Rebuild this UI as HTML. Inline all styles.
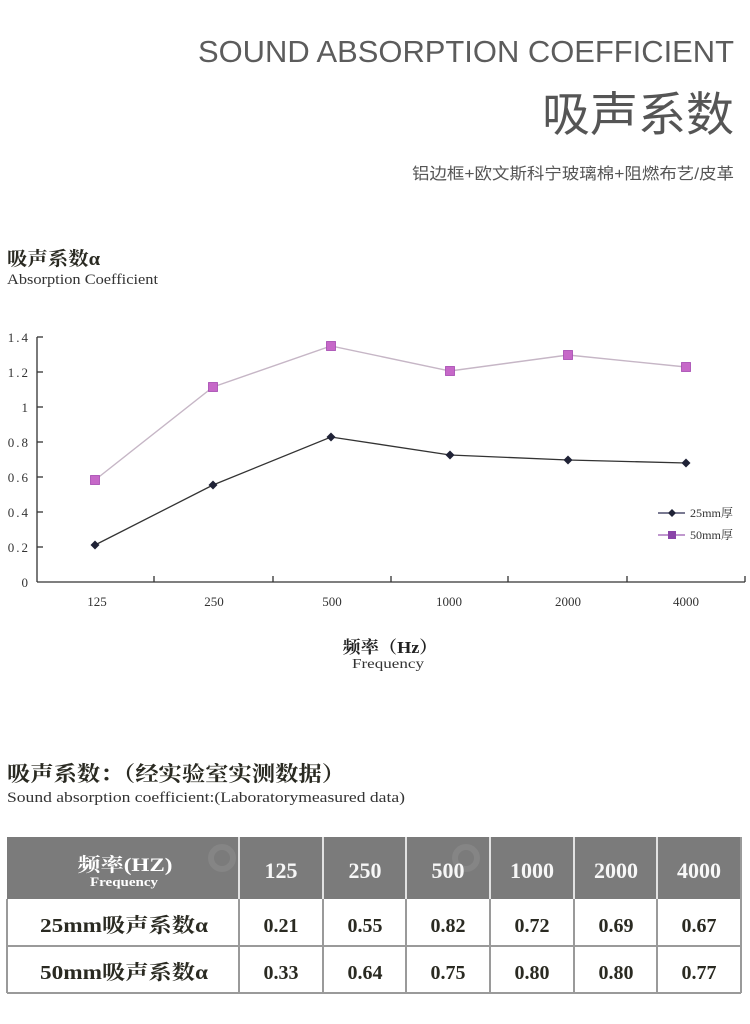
<!DOCTYPE html>
<html>
<head>
<meta charset="utf-8">
<style>
html,body{margin:0;padding:0;background:#fff;}
svg{display:block;}
</style>
</head>
<body>
<svg width="750" height="1024" viewBox="0 0 750 1024" xmlns="http://www.w3.org/2000/svg">
<rect width="750" height="1024" fill="#fff"/>

<!-- Header -->
<text x="734" y="62" text-anchor="end" font-family="Liberation Sans, sans-serif" font-size="31" fill="#5c5c5c" textLength="536" lengthAdjust="spacingAndGlyphs">SOUND ABSORPTION COEFFICIENT</text>
<text x="734" y="131" text-anchor="end" font-family="Liberation Sans, 'Noto Sans CJK SC', sans-serif" font-size="47" fill="#555" textLength="192" lengthAdjust="spacingAndGlyphs">吸声系数</text>
<text x="734" y="179" text-anchor="end" font-family="Liberation Sans, 'Noto Sans CJK SC', sans-serif" font-size="16" fill="#555" textLength="322" lengthAdjust="spacingAndGlyphs">铝边框+欧文斯科宁玻璃棉+阻燃布艺/皮革</text>

<!-- Chart title -->
<text x="7" y="265" font-family="Liberation Serif, 'Noto Serif CJK SC', serif" font-weight="bold" font-size="19" fill="#2a2a22" textLength="93" lengthAdjust="spacingAndGlyphs">吸声系数α</text>
<text x="7" y="284" font-family="Liberation Serif, serif" font-size="15" fill="#333" textLength="151" lengthAdjust="spacingAndGlyphs">Absorption Coefficient</text>

<!-- Axes -->
<g stroke="#333" stroke-width="1.3" fill="none">
  <line x1="37" y1="337" x2="37" y2="582"/>
  <line x1="37" y1="582" x2="745" y2="582"/>
  <line x1="37" y1="337" x2="43" y2="337"/>
  <line x1="37" y1="372" x2="43" y2="372"/>
  <line x1="37" y1="407" x2="43" y2="407"/>
  <line x1="37" y1="442" x2="43" y2="442"/>
  <line x1="37" y1="477" x2="43" y2="477"/>
  <line x1="37" y1="512" x2="43" y2="512"/>
  <line x1="37" y1="547" x2="43" y2="547"/>
  <line x1="154" y1="582" x2="154" y2="576"/>
  <line x1="273" y1="582" x2="273" y2="576"/>
  <line x1="391" y1="582" x2="391" y2="576"/>
  <line x1="508" y1="582" x2="508" y2="576"/>
  <line x1="627" y1="582" x2="627" y2="576"/>
  <line x1="745" y1="582" x2="745" y2="576"/>
</g>

<!-- Y labels -->
<g font-family="Liberation Serif, serif" font-size="13" fill="#333" text-anchor="end">
  <text x="30" y="342" letter-spacing="2">1.4</text>
  <text x="30" y="377" letter-spacing="2">1.2</text>
  <text x="28" y="412">1</text>
  <text x="30" y="447" letter-spacing="2">0.8</text>
  <text x="30" y="482" letter-spacing="2">0.6</text>
  <text x="30" y="517" letter-spacing="2">0.4</text>
  <text x="30" y="552" letter-spacing="2">0.2</text>
  <text x="28" y="587">0</text>
</g>

<!-- X labels -->
<g font-family="Liberation Serif, serif" font-size="13" fill="#333" text-anchor="middle">
  <text x="97" y="606">125</text>
  <text x="214" y="606">250</text>
  <text x="332" y="606">500</text>
  <text x="449" y="606">1000</text>
  <text x="568" y="606">2000</text>
  <text x="686" y="606">4000</text>
</g>

<!-- 50mm series -->
<polyline points="95,480 213,387 331,346 450,371 568,355 686,367" fill="none" stroke="#c6b6c6" stroke-width="1.4"/>
<g fill="#c668c8" stroke="#a448b0" stroke-width="0.8">
  <rect x="90.5" y="475.5" width="9" height="9"/>
  <rect x="208.5" y="382.5" width="9" height="9"/>
  <rect x="326.5" y="341.5" width="9" height="9"/>
  <rect x="445.5" y="366.5" width="9" height="9"/>
  <rect x="563.5" y="350.5" width="9" height="9"/>
  <rect x="681.5" y="362.5" width="9" height="9"/>
</g>

<!-- 25mm series -->
<polyline points="95,545 213,485 331,437 450,455 568,460 686,463" fill="none" stroke="#333" stroke-width="1.3"/>
<g fill="#1f2236">
  <polygon points="95,540.5 99.5,545 95,549.5 90.5,545"/>
  <polygon points="213,480.5 217.5,485 213,489.5 208.5,485"/>
  <polygon points="331,432.5 335.5,437 331,441.5 326.5,437"/>
  <polygon points="450,450.5 454.5,455 450,459.5 445.5,455"/>
  <polygon points="568,455.5 572.5,460 568,464.5 563.5,460"/>
  <polygon points="686,458.5 690.5,463 686,467.5 681.5,463"/>
</g>

<!-- Legend -->
<line x1="658" y1="513" x2="685" y2="513" stroke="#2a2a50" stroke-width="1.2"/>
<polygon points="672,509 676,513 672,517 668,513" fill="#1f2236"/>
<text x="690" y="517" font-family="Liberation Serif, 'Noto Serif CJK SC', serif" font-size="12" fill="#333" textLength="43" lengthAdjust="spacingAndGlyphs">25mm厚</text>
<line x1="658" y1="535" x2="685" y2="535" stroke="#9a5ab0" stroke-width="1.2"/>
<rect x="668" y="531" width="8" height="8" fill="#8a44a8"/>
<text x="690" y="539" font-family="Liberation Serif, 'Noto Serif CJK SC', serif" font-size="12" fill="#333" textLength="43" lengthAdjust="spacingAndGlyphs">50mm厚</text>

<!-- Axis title -->
<text x="390" y="653" text-anchor="middle" font-family="Liberation Serif, 'Noto Serif CJK SC', serif" font-weight="bold" font-size="17" fill="#222" textLength="95" lengthAdjust="spacingAndGlyphs">频率（Hz）</text>
<text x="388" y="668" text-anchor="middle" font-family="Liberation Serif, serif" font-size="14" fill="#333" textLength="72" lengthAdjust="spacingAndGlyphs">Frequency</text>

<!-- Section title -->
<text x="7" y="781" font-family="Liberation Serif, 'Noto Serif CJK SC', serif" font-weight="bold" font-size="21" fill="#2a2a22" textLength="338" lengthAdjust="spacingAndGlyphs">吸声系数：（经实验室实测数据）</text>
<text x="7" y="802" font-family="Liberation Serif, serif" font-size="15" fill="#333" textLength="398" lengthAdjust="spacingAndGlyphs">Sound absorption coefficient:(Laboratorymeasured data)</text>

<!-- Table -->
<rect x="7" y="837" width="734" height="62" fill="#7b7b7b"/>
<g stroke="#e2e2e2" stroke-width="2">
  <line x1="239" y1="837" x2="239" y2="899"/>
  <line x1="323" y1="837" x2="323" y2="899"/>
  <line x1="406" y1="837" x2="406" y2="899"/>
  <line x1="490" y1="837" x2="490" y2="899"/>
  <line x1="574" y1="837" x2="574" y2="899"/>
  <line x1="657" y1="837" x2="657" y2="899"/>
</g>
<g fill="none" stroke="#858585" stroke-width="6">
  <circle cx="222" cy="858" r="11"/>
  <circle cx="466" cy="858" r="11"/>
</g>
<g stroke="#9a9a9a" stroke-width="2">
  <line x1="7" y1="946" x2="741" y2="946"/>
  <line x1="7" y1="993" x2="741" y2="993"/>
  <line x1="7" y1="899" x2="7" y2="993"/>
  <line x1="741" y1="837" x2="741" y2="993"/>
  <line x1="239" y1="899" x2="239" y2="993"/>
  <line x1="323" y1="899" x2="323" y2="993"/>
  <line x1="406" y1="899" x2="406" y2="993"/>
  <line x1="490" y1="899" x2="490" y2="993"/>
  <line x1="574" y1="899" x2="574" y2="993"/>
  <line x1="657" y1="899" x2="657" y2="993"/>
</g>

<text x="125" y="871" text-anchor="middle" font-family="Liberation Serif, 'Noto Serif CJK SC', serif" font-weight="bold" font-size="19" fill="#fff" textLength="95" lengthAdjust="spacingAndGlyphs">频率(HZ)</text>
<text x="124" y="886" text-anchor="middle" font-family="Liberation Serif, serif" font-weight="bold" font-size="13" fill="#fff" textLength="68" lengthAdjust="spacingAndGlyphs">Frequency</text>
<g font-family="Liberation Serif, serif" font-weight="bold" font-size="22" fill="#f7f7f7" text-anchor="middle">
  <text x="281" y="878">125</text>
  <text x="365" y="878">250</text>
  <text x="448" y="878">500</text>
  <text x="532" y="878">1000</text>
  <text x="616" y="878">2000</text>
  <text x="699" y="878">4000</text>
</g>

<text x="124" y="932" text-anchor="middle" font-family="Liberation Serif, 'Noto Serif CJK SC', serif" font-weight="bold" font-size="20" fill="#2a2a22" textLength="168" lengthAdjust="spacingAndGlyphs">25mm吸声系数α</text>
<text x="124" y="979" text-anchor="middle" font-family="Liberation Serif, 'Noto Serif CJK SC', serif" font-weight="bold" font-size="20" fill="#2a2a22" textLength="168" lengthAdjust="spacingAndGlyphs">50mm吸声系数α</text>
<g font-family="Liberation Serif, serif" font-weight="bold" font-size="20" fill="#2a2a22" text-anchor="middle">
  <text x="281" y="932">0.21</text>
  <text x="365" y="932">0.55</text>
  <text x="448" y="932">0.82</text>
  <text x="532" y="932">0.72</text>
  <text x="616" y="932">0.69</text>
  <text x="699" y="932">0.67</text>
  <text x="281" y="979">0.33</text>
  <text x="365" y="979">0.64</text>
  <text x="448" y="979">0.75</text>
  <text x="532" y="979">0.80</text>
  <text x="616" y="979">0.80</text>
  <text x="699" y="979">0.77</text>
</g>
</svg>
</body>
</html>
